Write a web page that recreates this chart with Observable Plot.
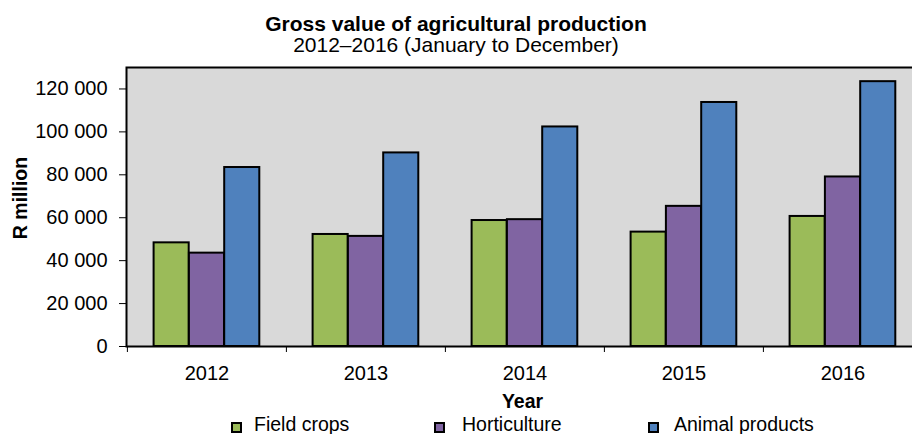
<!DOCTYPE html>
<html>
<head>
<meta charset="utf-8">
<script src="https://cdn.jsdelivr.net/npm/d3@7"></script>
<script src="https://cdn.jsdelivr.net/npm/@observablehq/plot@0.6"></script>
<style>
  html, body { margin: 0; padding: 0; background: #fff; overflow: hidden; }
  #wrap { position: relative; width: 912px; height: 434px; overflow: hidden; font-family: "Liberation Sans", Arial, sans-serif; color: #000; }
  #wrap svg { position: absolute; left: 0; top: 0; max-width: none !important; }
  .t { position: absolute; line-height: 0.9; white-space: nowrap; }
  .sw { position: absolute; width: 11px; height: 11px; box-sizing: border-box; border: 2px solid #000; }
  #titleblock { position: absolute; left: 0; width: 912px; text-align: center; font-size: 21px; line-height: 20.3px; white-space: nowrap; }
  #titleblock b { font-weight: bold; }
</style>
</head>
<body>
<div id="wrap"></div>
<script>
const years = ["2012", "2013", "2014", "2015", "2016"];
const seriesNames = ["Field crops", "Horticulture", "Animal products"];
const fieldCrops = [48300, 52200, 58700, 53300, 60600];
const horticulture = [43500, 51300, 59100, 65300, 79000];
const animalProducts = [83400, 90200, 102300, 113700, 123400];
const yTicks = [0, 20000, 40000, 60000, 80000, 100000, 120000];
const colors = ["#9bbb59", "#8064a2", "#4f81bd"];

const seriesValues = [fieldCrops, horticulture, animalProducts];
const data = [];
seriesNames.forEach((s, si) => years.forEach((y, yi) => data.push({year: y, series: s, value: seriesValues[si][yi]})));

const W = 925, ML = 126, MR = 3, MT = 67, MB = 88, H = 434;
const bw = (W - ML - MR) / years.length;
const groupOffset = 26.6, barW = 35.3;

const fmt = d3.formatLocale({thousands: " ", grouping: [3], decimal: ".", currency: ["", ""]}).format(",");

const marks = [
  Plot.frame({fill: "#d9d9d9", stroke: "none"}),
];
seriesNames.forEach((s, i) => {
  marks.push(Plot.barY(data.filter(d => d.series === s), {
    x: "year", y: "value", fill: colors[i], stroke: "#000", strokeWidth: 2,
    insetLeft: groupOffset + barW * i,
    insetRight: bw - groupOffset - barW * (i + 1)
  }));
});
marks.push(
  Plot.frame({stroke: "#000", strokeWidth: 2, fill: "none"}),
  Plot.axisY({ticks: yTicks, tickFormat: fmt, tickSize: 7, tickPadding: 12, fontSize: 20, label: null, stroke: "#000"}),
  Plot.axisX({tickSize: 0, tickPadding: 19, fontSize: 20, label: null}),
  Plot.axisX({tickSize: 6, tickFormat: () => "", dx: -bw / 2, label: null, stroke: "#000"})
);

const chart = Plot.plot({
  width: W, height: H,
  marginLeft: ML, marginRight: MR, marginTop: MT, marginBottom: MB,
  style: {fontFamily: "Liberation Sans, Arial, sans-serif", color: "#000", background: "transparent", maxWidth: "none"},
  x: {domain: years, padding: 0, label: null},
  y: {domain: [0, 130000], label: null},
  marks
});

const wrap = document.getElementById("wrap");
wrap.appendChild(chart);

function addText(txt, opts) {
  const el = document.createElement("div");
  el.className = "t";
  el.textContent = txt;
  Object.assign(el.style, opts);
  wrap.appendChild(el);
  return el;
}
// line-height 0.9: baseline = top + 0.7965*fs
function topFor(baseline, fs) { return (baseline - 0.7965 * fs) + "px"; }

// Title + subtitle in one block (two lines)
const tb = document.createElement("div");
tb.id = "titleblock";
const tTitle = document.createElement("b");
tTitle.textContent = "Gross value of agricultural production";
const tSub = document.createElement("span");
tSub.textContent = "2012–2016 (January to December)";
tb.appendChild(tTitle);
tb.appendChild(document.createElement("br"));
tb.appendChild(tSub);
// line-height 20.3px, fs 21: baseline of first line = top + (20.3 - 23.457)/2 + 19.005
tb.style.top = (31.7 - ((20.3 - 23.457) / 2 + 19.005)) + "px";
wrap.appendChild(tb);

addText("Year", {left: "422.5px", width: "200px", textAlign: "center", fontSize: "19.5px", fontWeight: "bold", top: topFor(408.3, 19.5)});
addText("R million", {left: "21px", top: "197.5px", fontSize: "19.5px", fontWeight: "bold", transform: "translate(-50%, -50%) rotate(-90deg)"});

const legendSw = [231, 434, 648];
const legendTx = [254, 462, 674];
seriesNames.forEach((s, i) => {
  const sw = document.createElement("div");
  sw.className = "sw";
  sw.style.left = legendSw[i] + "px";
  sw.style.top = "422px";
  sw.style.background = colors[i];
  wrap.appendChild(sw);
  addText(s, {left: legendTx[i] + "px", top: topFor(432, 19.5), fontSize: "19.5px"});
});
</script>
</body>
</html>
